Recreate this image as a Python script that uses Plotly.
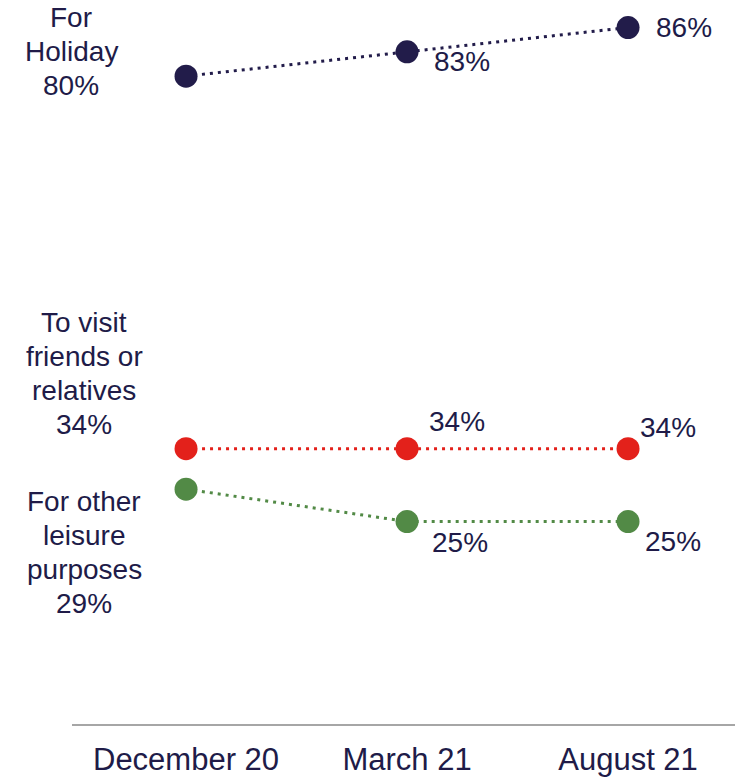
import plotly.graph_objects as go

# Survey waves
waves = ["December 20", "March 21", "August 21"]

# Share of respondents (%) by purpose of trip
holiday = [80, 83, 86]
visit_friends = [34, 34, 34]
other_leisure = [29, 25, 25]

series_lines = [
    ["For", "Holiday"],
    ["To visit", "friends or", "relatives"],
    ["For other", "leisure", "purposes"],
]

NAVY = "#221c4a"
RED = "#e3211b"
GREEN = "#528a46"
TEXT = "#201b48"
FONT = "Liberation Sans, Arial, sans-serif"
LABEL_SIZE = 28
LINE_GAP = 34  # px between stacked label lines

series = [
    (series_lines[0], holiday, NAVY),
    (series_lines[1], visit_friends, RED),
    (series_lines[2], other_leisure, GREEN),
]

fig = go.Figure()
for lines, vals, col in series:
    fig.add_trace(go.Scatter(
        x=waves, y=vals, mode="lines+markers",
        name=" ".join(lines),
        line=dict(color=col, width=3, dash="3px,5px"),
        marker=dict(color=col, size=23),
        cliponaxis=False, showlegend=False, hoverinfo="skip",
    ))

# Series name + first value, stacked line by line left of the first point
left_shifts = [(-115, 25), (-102, 75), (-102, -63)]
for (lines, vals, col), (dx, dy) in zip(series, left_shifts):
    rows = lines + [f"{vals[0]}%"]
    n = len(rows)
    for i, row in enumerate(rows):
        fig.add_annotation(
            x=waves[0], y=vals[0], xref="x", yref="y",
            text=row, showarrow=False,
            xshift=dx, yshift=dy + ((n - 1) / 2 - i) * LINE_GAP,
            xanchor="center", yanchor="middle",
            font=dict(size=LABEL_SIZE, color=TEXT, family=FONT),
        )

# Value labels for later waves
value_shifts = [
    [(55, -10), (56, 0)],
    [(50, 27), (40, 21)],
    [(53, -21), (45, -20)],
]
for (lines, vals, col), shifts in zip(series, value_shifts):
    for i, (dx, dy) in zip([1, 2], shifts):
        fig.add_annotation(
            x=waves[i], y=vals[i], xref="x", yref="y",
            text=f"{vals[i]}%", showarrow=False,
            xshift=dx, yshift=dy,
            font=dict(size=LABEL_SIZE, color=TEXT, family=FONT),
        )

fig.update_layout(
    width=735, height=780,
    margin=dict(l=72, r=0, t=0, b=56),
    paper_bgcolor="white", plot_bgcolor="white",
    font=dict(family=FONT, color=TEXT),
    xaxis=dict(
        type="category", range=[-0.516, 2.484],
        showgrid=False, zeroline=False,
        showline=True, linecolor="#a6a6a6", linewidth=1.5,
        ticks="outside", ticklen=7, tickcolor="rgba(0,0,0,0)",
        tickfont=dict(size=31, color=TEXT, family=FONT),
    ),
    yaxis=dict(
        range=[0, 89.4], visible=False, showgrid=False, zeroline=False,
    ),
)

fig.write_html("out.html")
